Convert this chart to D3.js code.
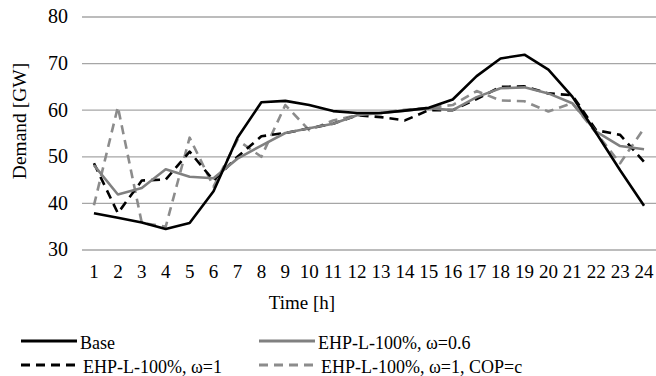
<!DOCTYPE html>
<html>
<head>
<meta charset="utf-8">
<script src="https://cdn.jsdelivr.net/npm/d3@7"></script>
<style>
  body { margin: 0; background: #fff; }
  svg { display: block; }
  svg text { font-family: 'Liberation Serif', 'Times New Roman', Times, serif; fill: #000; }
</style>
</head>
<body>
<div id="chart"></div>
<script>
// [1] DATA
const hours = d3.range(1, 25);
const yTicks = [30, 40, 50, 60, 70, 80];

const base = [37.8, 36.8, 35.8, 34.4, 35.7, 42.5, 54.0, 61.6, 61.9, 61.0, 59.7, 59.3,
  59.3, 59.8, 60.4, 62.2, 67.2, 71.0, 71.8, 68.6, 62.8, 55.0, 47.0, 39.4];
const ehp06 = [48.1, 41.8, 43.2, 47.2, 45.6, 45.3, 49.5, 52.3, 55.0, 56.0, 57.0, 58.8,
  59.3, 59.8, 60.3, 59.9, 62.7, 64.6, 64.8, 63.5, 61.4, 55.3, 52.2, 51.5];
const ehp1 = [48.5, 37.8, 44.8, 45.0, 51.0, 44.8, 49.9, 54.3, 55.0, 56.0, 57.0, 58.8,
  58.4, 57.7, 59.9, 59.9, 62.3, 64.9, 65.0, 63.5, 63.1, 55.6, 54.6, 48.8];
const ehp1cop = [39.5, 60.6, 35.7, 34.9, 54.0, 43.5, 53.5, 49.9, 61.0, 55.6, 57.7, 58.8,
  59.3, 60.0, 60.4, 61.0, 64.0, 62.0, 61.8, 59.6, 61.4, 55.0, 48.5, 56.0];

const series = [
  { name: 'Base', values: base, color: '#000000', dash: null },
  { name: 'EHP-L-100%, ω=0.6', values: ehp06, color: '#808080', dash: null },
  { name: 'EHP-L-100%, ω=1', values: ehp1, color: '#000000', dash: '9,6' },
  { name: 'EHP-L-100%, ω=1, COP=c', values: ehp1cop, color: '#8c8c8c', dash: '9,6' },
];

// [2] DIMENSIONS
const width = 656;
const height = 376;
const plot = { left: 82, right: 656, top: 16.5, bottom: 249.5 };

const svg = d3.select('#chart').append('svg').attr('width', width).attr('height', height);

// [3] SCALES
const xScale = d3.scaleBand().domain(hours).range([plot.left, plot.right]).padding(0);
const yScale = d3.scaleLinear().domain([30, 80]).range([plot.bottom, plot.top]);
const xCenter = (h) => xScale(h) + xScale.bandwidth() / 2;

// [4] GRID + AXES
const yAxis = d3.axisLeft(yScale).tickValues(yTicks).tickSize(-(plot.right - plot.left)).tickPadding(14);
const gy = svg.append('g').attr('transform', `translate(${plot.left},0)`).call(yAxis);
gy.attr('font-family', null);
gy.select('.domain').remove();
gy.selectAll('.tick line').attr('stroke', '#a6a6a6').attr('stroke-width', 1.3);
gy.selectAll('.tick text').attr('font-size', 20);

const xAxis = d3.axisBottom(xScale).tickSize(0).tickPadding(15);
const gx = svg.append('g').attr('transform', `translate(0,${plot.bottom})`).call(xAxis);
gx.attr('font-family', null);
gx.select('.domain').remove();
gx.selectAll('.tick text').attr('font-size', 19);

// axis titles
svg.append('text')
  .attr('transform', `translate(26,121) rotate(-90)`)
  .attr('text-anchor', 'middle')
  .attr('font-size', 19.5)
  .text('Demand [GW]');

svg.append('text')
  .attr('x', 302)
  .attr('y', 309)
  .attr('text-anchor', 'middle')
  .attr('font-size', 19)
  .text('Time [h]');

// [5] LINES
const line = d3.line()
  .x((d, i) => xCenter(hours[i]))
  .y((d) => yScale(d));

// draw in reverse so Base sits on top
[...series].reverse().forEach((s) => {
  svg.append('path')
    .datum(s.values)
    .attr('d', line)
    .attr('fill', 'none')
    .attr('stroke', s.color)
    .attr('stroke-width', 2.6)
    .attr('stroke-dasharray', s.dash)
    .attr('stroke-linejoin', 'round');
});

// [6] LEGEND
const legendPos = [
  { x: 21, y: 341 },
  { x: 259, y: 341 },
  { x: 21, y: 365 },
  { x: 259, y: 365 },
];

series.forEach((s, i) => {
  const p = legendPos[i];
  const g = svg.append('g').attr('transform', `translate(${p.x},${p.y})`);
  g.append('line')
    .attr('x1', 0).attr('x2', 56)
    .attr('stroke', s.color)
    .attr('stroke-width', 3)
    .attr('stroke-dasharray', s.dash);
  g.append('text')
    .attr('x', s.dash ? 62 : 59)
    .attr('y', 8)
    .attr('font-size', 18)
    .text(s.name);
});
</script>
</body>
</html>
